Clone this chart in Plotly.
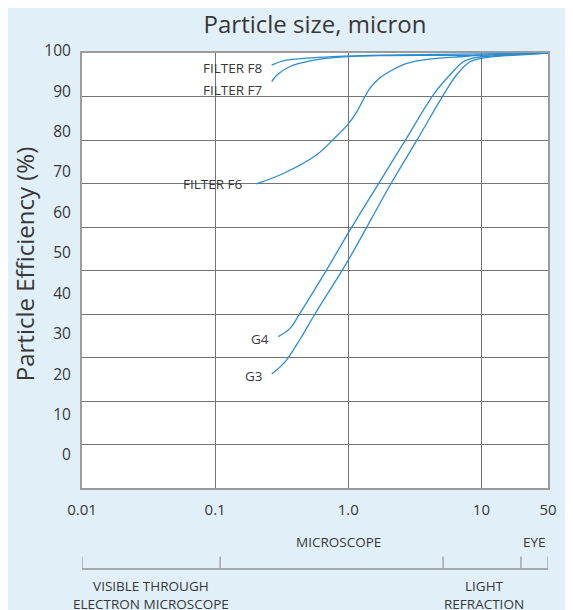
import numpy as np
import plotly.graph_objects as go

# ---------------- data (particle size in micron, efficiency in %) ----------------
f8_x = [0.266, 0.324, 0.488, 0.767, 1.82, 10.4, 50]
f8_y = [97.2, 98.2, 98.8, 99.15, 99.5, 99.8, 100]

f7_x = [0.266, 0.290, 0.365, 0.516, 0.818, 1.82, 10.4, 50]
f7_y = [93.4, 94.9, 96.9, 98.2, 99.0, 99.4, 99.5, 100]

f6_x = [0.203, 0.325, 0.579, 0.80, 1.0, 1.156, 1.297, 1.456, 1.73, 2.06, 2.75, 4.11, 7.31, 10, 50]
f6_y = [69.9, 72.3, 76.6, 80.6, 83.7, 86.4, 89.3, 91.9, 94.3, 95.8, 97.6, 98.6, 99.2, 99.5, 100]

g4_x = [0.298, 0.365, 0.434, 0.689, 1.03, 1.73, 2.75, 4.35, 5.81, 7.31, 8.69, 11.4, 50]
g4_y = [34.8, 36.7, 40.2, 50.2, 59.3, 70.5, 80.5, 90.4, 95.0, 98.0, 98.85, 99.25, 100]

g3_x = [0.266, 0.335, 0.434, 0.562, 1.0, 2.06, 3.27, 5.17, 6.52, 8.2, 9.75, 12.2, 50]
g3_y = [26.2, 29.0, 34.2, 40.0, 52.4, 69.6, 79.9, 90.3, 95.0, 98.0, 98.7, 99.05, 100]

series_names = ["FILTER F8", "FILTER F7", "FILTER F6", "G4", "G3"]

x_tick_values = [0.01, 0.1, 1.0, 10, 50]
x_tick_labels = ["0.01", "0.1", "1.0", "10", "50"]
y_tick_values = list(range(0, 101, 10))

# bracket boundaries (micron) and captions (micron position, text, row)
bracket_bounds = [0.01, 0.109, 5.15, 26.0, 50]
captions = [
    (0.85, "MICROSCOPE", "top"),
    (36.5, "EYE", "top"),
    (0.033, "VISIBLE THROUGH<br>ELECTRON MICROSCOPE", "bottom"),
    (10.6, "LIGHT<br>REFRACTION", "bottom"),
]


# The size axis is logarithmic per decade, with the last segment 10 -> 50 squeezed
def pos(x):
    x = np.asarray(x, dtype=float)
    lx = np.log10(x)
    return np.where(lx <= 1, lx, 1 + (lx - 1) / (2 * np.log10(5)))


def fpos(x):
    return float(pos(x))


BLUE = "#2a8dd4"
TXT = "#383838"
BG = "#e1eff9"
FONT = "Open Sans"
GRID = "#747474"
BORDER = "#9c9c9c"

fig = go.Figure()
series = [(f8_x, f8_y), (f7_x, f7_y), (f6_x, f6_y), (g4_x, g4_y), (g3_x, g3_y)]
for name, (xs, ys) in zip(series_names, series):
    fig.add_trace(go.Scatter(
        x=pos(xs).tolist(), y=ys, mode="lines", name=name,
        line=dict(color=BLUE, width=1.3, shape="spline", smoothing=1.0),
        showlegend=False, hoverinfo="skip", xaxis="x", yaxis="y"))

# dummy trace binding the tick-label axis pair (x2, y2)
fig.add_trace(go.Scatter(x=[None], y=[None], xaxis="x2", yaxis="y2",
                         showlegend=False, hoverinfo="skip"))

# white plotting panel
fig.add_shape(type="rect", xref="x", yref="y", x0=fpos(0.01), x1=fpos(50), y0=0, y1=100,
              fillcolor="white", line=dict(width=0), layer="below")

# curve labels (text, start x, start y, xshift, yshift)
label_specs = [
    ("FILTER F8", f8_x[0], f8_y[0], -7, -3),
    ("FILTER F7", f7_x[0], f7_y[0], -7, -8),
    ("FILTER F6", f6_x[0], f6_y[0], -11, 0),
    ("G4", g4_x[0], g4_y[0], -7, -2),
    ("G3", g3_x[0], g3_y[0], -7, -2),
]
for text, x0, y0, dx, dy in label_specs:
    fig.add_annotation(x=fpos(x0), y=y0, xref="x", yref="y", text=text, showarrow=False,
                       xanchor="right", yanchor="middle", xshift=dx, yshift=dy,
                       font=dict(family=FONT, size=13.5, color=TXT))

# bracket below the axis
bp = [fpos(v) for v in bracket_bounds]
line_col = "#a2a8ae"
fig.add_shape(type="line", xref="x", yref="paper", x0=bp[0], x1=bp[-1], y0=-0.1808, y1=-0.1808,
              line=dict(color=line_col, width=2))
for b in bp:
    fig.add_shape(type="line", xref="x", yref="paper", x0=b, x1=b, y0=-0.1808, y1=-0.153,
                  line=dict(color=line_col, width=1.5))

caption_font = dict(family=FONT, size=13.5, color=TXT)
for cx, text, row in captions:
    fig.add_annotation(x=fpos(cx), y=-0.1205 if row == "top" else -0.239,
                       xref="x", yref="paper", text=text, showarrow=False,
                       font=caption_font, yanchor="middle", xanchor="center")

# NOTE: the page body has an 8px margin, so figure coordinates are offset by -8px
xr = [fpos(0.01), fpos(50)]
fig.update_layout(
    width=573, height=610,
    margin=dict(l=74, r=33, t=32, b=130, pad=0),
    paper_bgcolor=BG, plot_bgcolor="rgba(0,0,0,0)",
    font=dict(family=FONT, color=TXT),
    title=dict(text="Particle size, micron", x=0.5, xanchor="center", xref="paper",
               y=1 - 17 / 610, yanchor="middle",
               font=dict(family=FONT, size=24, color=TXT)),
    xaxis=dict(range=xr, domain=[0, 1], anchor="y", tickmode="array",
               tickvals=pos(x_tick_values).tolist(), ticktext=x_tick_labels,
               showgrid=True, gridcolor=GRID, gridwidth=1, zeroline=False,
               showline=True, linecolor=BORDER, linewidth=2, mirror=True,
               layer="below traces",
               ticks="outside", ticklen=7, tickcolor="rgba(0,0,0,0)",
               tickfont=dict(family=FONT, size=15, color=TXT), automargin=False),
    yaxis=dict(range=[0, 100], domain=[0, 435 / 448], anchor="x", tickmode="array",
               tickvals=y_tick_values, showticklabels=False,
               showgrid=True, gridcolor=GRID, gridwidth=1, zeroline=False,
               showline=True, linecolor=BORDER, linewidth=2, mirror=True,
               layer="below traces", ticks="", automargin=False),
    xaxis2=dict(range=xr, domain=[0, 1], anchor="y2", visible=False),
    yaxis2=dict(range=[(455 - 488) / 4.043, (455 - 40) / 4.043], domain=[0, 1],
                anchor="x2", side="left", tickmode="array",
                tickvals=y_tick_values, showgrid=False, zeroline=False, showline=False,
                ticks="outside", ticklen=7, tickcolor="rgba(0,0,0,0)",
                tickfont=dict(family=FONT, size=15.5, color=TXT), automargin=False,
                title=dict(text="Particle Efficiency (%)", standoff=3,
                           font=dict(family=FONT, size=24, color=TXT))),
)

fig.write_html("out.html")
